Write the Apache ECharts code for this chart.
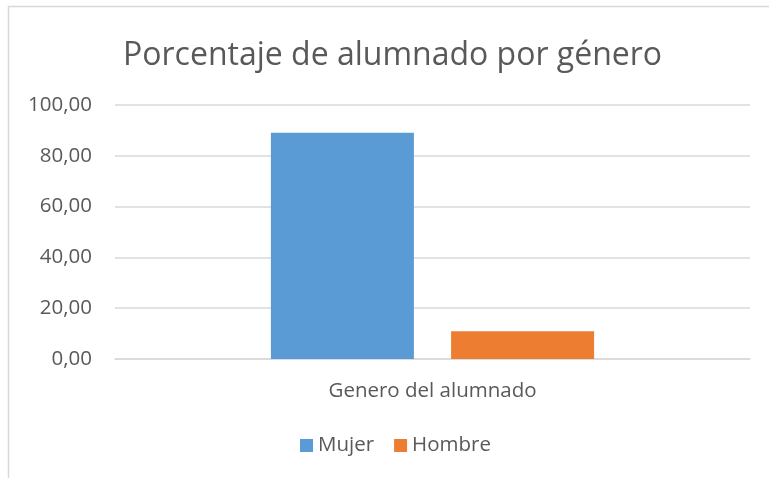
<!DOCTYPE html>
<html>
<head>
<meta charset="utf-8">
<script src="https://cdn.jsdelivr.net/npm/echarts@6/dist/echarts.min.js"></script>
<style>
  html, body { margin: 0; padding: 0; background: #fff; }
  #chart { width: 769px; height: 478px; }
</style>
</head>
<body>
<div id="chart"></div>
<script>
const categories = ['Genero del alumnado']
const seriesNames = ['Mujer', 'Hombre']
const mujerValues = [89.1]
const hombreValues = [10.9]
const colors = ['#5b9bd5', '#ed7d31']

const chart = echarts.init(document.getElementById('chart'))
const fontFamily = 'Open Sans, sans-serif'

const option = {
  color: colors,
  animation: false,
  title: {
    text: 'Porcentaje de alumnado por género',
    left: 118,
    top: 35,
    textStyle: {
      color: '#595959',
      fontSize: 32,
      fontWeight: 'normal',
      fontFamily
    }
  },
  graphic: [{
    type: 'rect',
    shape: { x: 8.5, y: 6.5, width: 800, height: 500 },
    style: { fill: 'none', stroke: '#d9d9d9', lineWidth: 1.5 },
    silent: true
  }],
  legend: {
    bottom: 17,
    left: 295,
    itemWidth: 13,
    itemHeight: 13,
    itemGap: 20,
    icon: 'rect',
    textStyle: { color: '#595959', fontSize: 20.5, fontFamily },
    data: seriesNames
  },
  grid: {
    top: 105,
    left: 115,
    right: 19,
    bottom: 119
  },
  xAxis: {
    type: 'category',
    data: categories,
    axisLine: { lineStyle: { color: '#d9d9d9', width: 1.5 } },
    axisTick: { show: false },
    axisLabel: { color: '#595959', fontSize: 20.5, fontFamily, margin: 22 }
  },
  yAxis: {
    type: 'value',
    min: 0,
    max: 100,
    interval: 20,
    axisLine: { show: false },
    axisTick: { show: false },
    axisLabel: {
      color: '#595959',
      fontSize: 20.5,
      fontFamily,
      margin: 23,
      formatter: v => v.toFixed(2).replace('.', ',')
    },
    splitLine: { lineStyle: { color: '#d9d9d9', width: 1.5 } }
  },
  series: [
    {
      name: seriesNames[0],
      type: 'bar',
      barWidth: 143,
      barGap: '26%',
      data: mujerValues
    },
    {
      name: seriesNames[1],
      type: 'bar',
      barWidth: 143,
      barGap: '26%',
      data: hombreValues
    }
  ]
}

chart.setOption(option)
</script>
</body>
</html>
